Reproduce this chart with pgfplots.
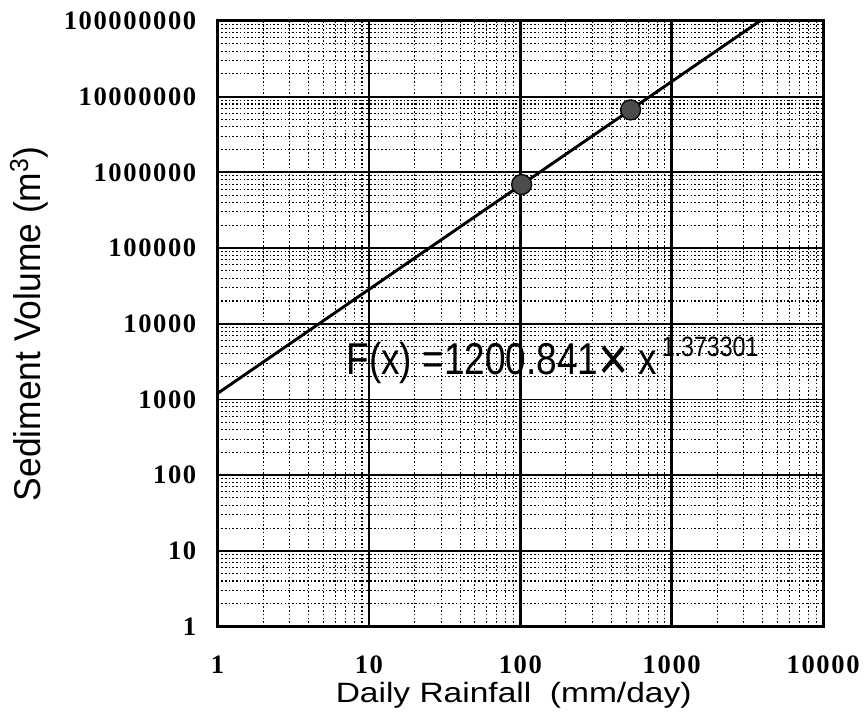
\documentclass[border=0pt]{standalone}
\usepackage{fontspec}
\setmainfont{Liberation Serif}
\newfontfamily\labelfont{Liberation Sans}
\usepackage{pgfplots}
\pgfplotsset{compat=1.18}
\begin{document}
\begin{tikzpicture}
\begin{axis}[
    xmode=log, ymode=log,
    scale only axis,
    width=455.25pt, height=455.25pt,
    xmin=1, xmax=10000, ymin=1, ymax=1e8,
    xtick={1,10,100,1000,10000},
    xticklabels={1,10,100,1000,10000},
    ytick={1,10,100,1000,10000,100000,1000000,10000000,100000000},
    yticklabels={1,10,100,1000,10000,100000,1000000,10000000,100000000},
    grid=both,
    major grid style={black, line width=1.3pt},
    major x grid style={black, line width=1.9pt},
    minor grid style={black, dash pattern=on 1.2pt off 1.6pt, line width=0.8pt},
    axis line style={black, line width=2.2pt},
    tick style={draw=none},
    ticklabel style={font=\fontsize{20}{20}\selectfont\bfseries\addfontfeature{LetterSpace=6}},
    xticklabel style={anchor=center, yshift=-28.5pt},
    yticklabel style={anchor=east, inner sep=0pt, xshift=-15.75pt},
    xlabel={\scalebox{1.2}[1]{Daily Rainfall\ \ (mm/day)}},
    ylabel={\scalebox{0.95}[1]{Sediment Volume\ (m\textsuperscript{3})}},
    xlabel style={font=\labelfont\fontsize{21}{21}\selectfont, at={(axis description cs:0.489,-0.1137)}, anchor=center},
    ylabel style={font=\labelfont\fontsize{28}{28}\selectfont, at={(axis description cs:-0.3114,0.5)}, anchor=center},
    clip=true,
]
\addplot[black, line width=2.2pt] coordinates {(1,1200.841) (3826,1e8)};
\addplot[only marks, mark=*, mark size=7.5pt, mark options={fill=black!70, draw=black, line width=1pt}]
    coordinates {(102,690000) (535,6680000)};
\node[anchor=base west, font=\labelfont, inner sep=0pt]
    at (axis cs:7.08,2150) {\scalebox{0.83}[1]{\fontsize{33.5}{33.5}\selectfont F(x) =1200.841\raisebox{-4.5pt}{\scalebox{1.4}{×}} x\hspace{4pt}\raisebox{13.5pt}{\fontsize{21}{21}\selectfont 1.373301}}};
\end{axis}
\path (current axis.south west) ++(-163.5pt,-75pt) rectangle ++(648pt,546pt);
\end{tikzpicture}
\end{document}
